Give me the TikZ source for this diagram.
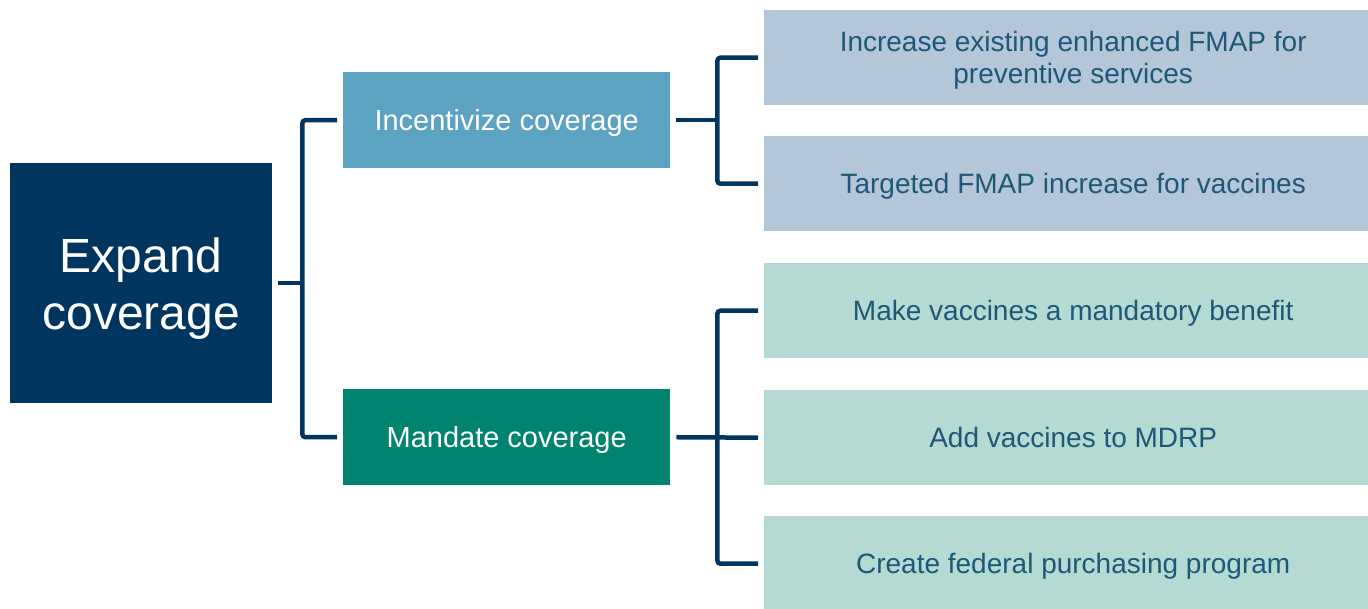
\documentclass[tikz,border=0pt]{standalone}
\usepackage{fontspec}
\setmainfont{Liberation Sans}
\usepackage{tikz}
\usetikzlibrary{positioning}
\usepackage{xcolor}

\definecolor{navy}{HTML}{003560}
\definecolor{incentblue}{HTML}{5BA3C0}
\definecolor{mandgreen}{HTML}{00836F}
\definecolor{optblue}{HTML}{B3C7D8}
\definecolor{optgreen}{HTML}{B5DAD3}
\definecolor{opttext}{HTML}{1D5878}

\tikzset{
    rootbox/.style={fill=navy, text=white, anchor=north west, inner sep=0pt,
        minimum width=262pt, minimum height=240pt, align=center, text depth=0pt,
        font=\fontsize{48}{57}\selectfont},
    midbox/.style={text=white, anchor=north west, inner sep=0pt,
        minimum width=327pt, minimum height=96pt, align=center, text depth=0pt,
        font=\fontsize{29}{34}\selectfont},
    optbox/.style={text=opttext, anchor=north west, inner sep=0pt,
        minimum width=618pt, minimum height=95pt, align=center, text depth=0pt,
        font=\fontsize{28}{32}\selectfont},
    link/.style={draw=navy, line width=4.5pt, rounded corners=3pt,
        shorten <=6pt, shorten >=6pt},
}

\begin{document}
\begin{tikzpicture}[x=1pt, y=-1pt]
    \useasboundingbox (0,0) rectangle (1368,608);

    % root and the two ways to get there
    \node[rootbox] (expand) at (10,163) {Expand\\coverage};
    \node[midbox, fill=incentblue] (incent) at (343,72) {Incentivize coverage};
    \node[midbox, fill=mandgreen] (mandate) at (343,389) {Mandate coverage};

    % policy options (they run off the right edge)
    \node[optbox, fill=optblue] (fmapprev) at (764,10)
        {Increase existing enhanced FMAP for\\preventive services};
    \node[optbox, fill=optblue] (fmapvacc) at (764,136)
        {Targeted FMAP increase for vaccines};
    \node[optbox, fill=optgreen] (benefit) at (764,263)
        {Make vaccines a mandatory benefit};
    \node[optbox, fill=optgreen] (mdrp) at (764,390)
        {Add vaccines to MDRP};
    \node[optbox, fill=optgreen] (purchase) at (764,516)
        {Create federal purchasing program};

    % bus lines of the brackets
    \coordinate (busA) at ([xshift=30pt]expand.east);
    \coordinate (busB) at ([xshift=47pt]incent.east);
    \coordinate (busC) at ([xshift=47pt]mandate.east);

    % root bracket
    \draw[link, shorten >=0pt] (expand.east) -- (busA);
    \draw[link] (incent.west) -| (busA) |- (mandate.west);

    % incentive bracket
    \draw[link, shorten >=0pt] (incent.east) -- (busB);
    \draw[link] (fmapprev.west) -| (busB) |- (fmapvacc.west);

    % mandate bracket
    \draw[link] (mandate.east) -- (mdrp.west);
    \draw[link] (benefit.west) -| (busC) |- (purchase.west);
\end{tikzpicture}
\end{document}
